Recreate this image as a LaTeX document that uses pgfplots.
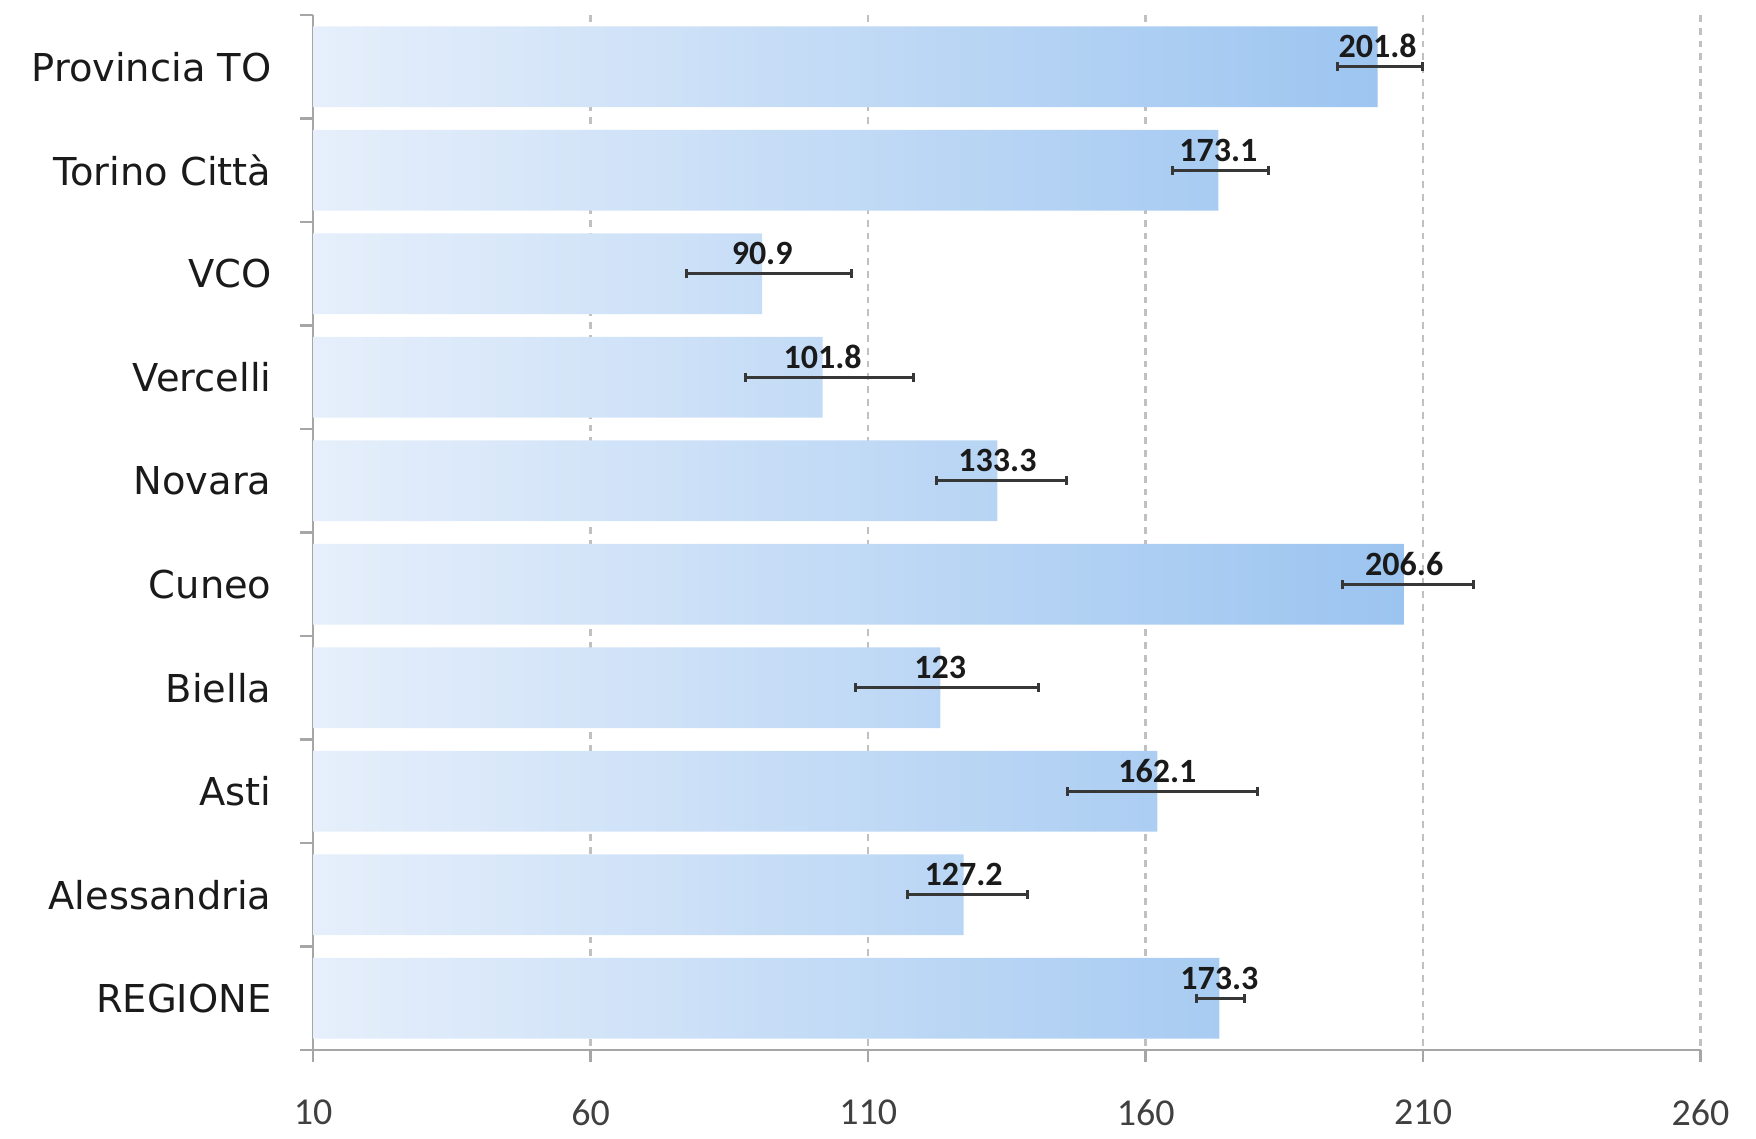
\documentclass[border=0pt]{standalone}
\usepackage{pgfplots}
\pgfplotsset{compat=1.18}
\usepackage{fontspec}
\setmainfont{Carlito}
\newfontfamily\catfont{DejaVu Sans}
\definecolor{barL}{RGB}{230,239,251}
\definecolor{barR}{RGB}{155,196,240}
\definecolor{axisgray}{RGB}{166,166,166}
\definecolor{gridgray}{RGB}{192,192,192}
\definecolor{ticktext}{RGB}{64,64,64}
\definecolor{cattext}{RGB}{26,26,26}
\definecolor{errgray}{RGB}{55,55,55}
\begin{document}
\begin{tikzpicture}
\useasboundingbox (-78.3pt,-22pt) rectangle (360.7pt,262.5pt);
\begin{axis}[
  scale only axis,
  width=346.85pt, height=258.75pt,
  xmin=10, xmax=260,
  ymin=-0.5, ymax=9.5,
  y dir=reverse,
  axis x line*=bottom, axis y line*=left,
  axis line style={axisgray, line width=0.6pt, -},
  xtick={10,60,110,160,210,260},
  ytick={0,...,9},
  yticklabels={{Provincia TO\hspace{3.2pt}},{Torino Città},VCO,Vercelli,Novara,Cuneo,Biella,Asti,Alessandria,REGIONE},
  minor ytick={-0.5,0.5,...,9.5},
  tick align=outside,
  major tick length=2.9pt,
  minor tick length=3.3pt,
  xtick style={axisgray, line width=0.6pt},
  ytick style={draw=none},
  minor y tick style={draw=axisgray, line width=0.6pt},
  xmajorgrids,
  major x grid style={gridgray, line width=0.6pt, dash pattern=on 1.7pt off 1.5pt},
  /pgf/number format/assume math mode=true,
  xticklabel style={font=\fontsize{9.5}{11}\selectfont, text=ticktext, yshift=-5.9pt},
  yticklabel style={font=\catfont\fontsize{9.6}{11}\selectfont, text=cattext, xshift=-4.0pt},
  clip=true,
]
\addplot[xbar, bar width=0.78, bar shift=0pt, draw=none, left color=barL, right color=barR]
coordinates {
(201.8,0) (173.1,1) (90.9,2) (101.8,3) (133.3,4) (206.6,5) (123,6) (162.1,7) (127.2,8) (173.3,9)
};
\addplot[draw=none, mark=none, forget plot,
  nodes near coords, point meta=x,
  every node near coord/.append style={anchor=base, yshift=2.2pt, font=\bfseries\fontsize{8.5}{10}\selectfont, text=cattext},
  error bars/.cd, x dir=both, x explicit,
  error mark=|,
  error bar style={draw=errgray, line width=0.75pt, solid},
  error mark options={draw=errgray, line width=0.75pt, mark size=1.1pt, solid}]
coordinates {
(201.8,0) += (8.1,0) -= (7.2,0)
(173.1,1) += (9.1,0) -= (8.3,0)
(90.9,2) += (16.1,0) -= (13.7,0)
(101.8,3) += (16.3,0) -= (13.9,0)
(133.3,4) += (12.4,0) -= (11.0,0)
(206.6,5) += (12.4,0) -= (11.2,0)
(123,6) += (17.7,0) -= (15.3,0)
(162.1,7) += (18.1,0) -= (16.1,0)
(127.2,8) += (11.5,0) -= (10.2,0)
(173.3,9) += (4.5,0) -= (4.1,0)
};
\end{axis}
\end{tikzpicture}
\end{document}
